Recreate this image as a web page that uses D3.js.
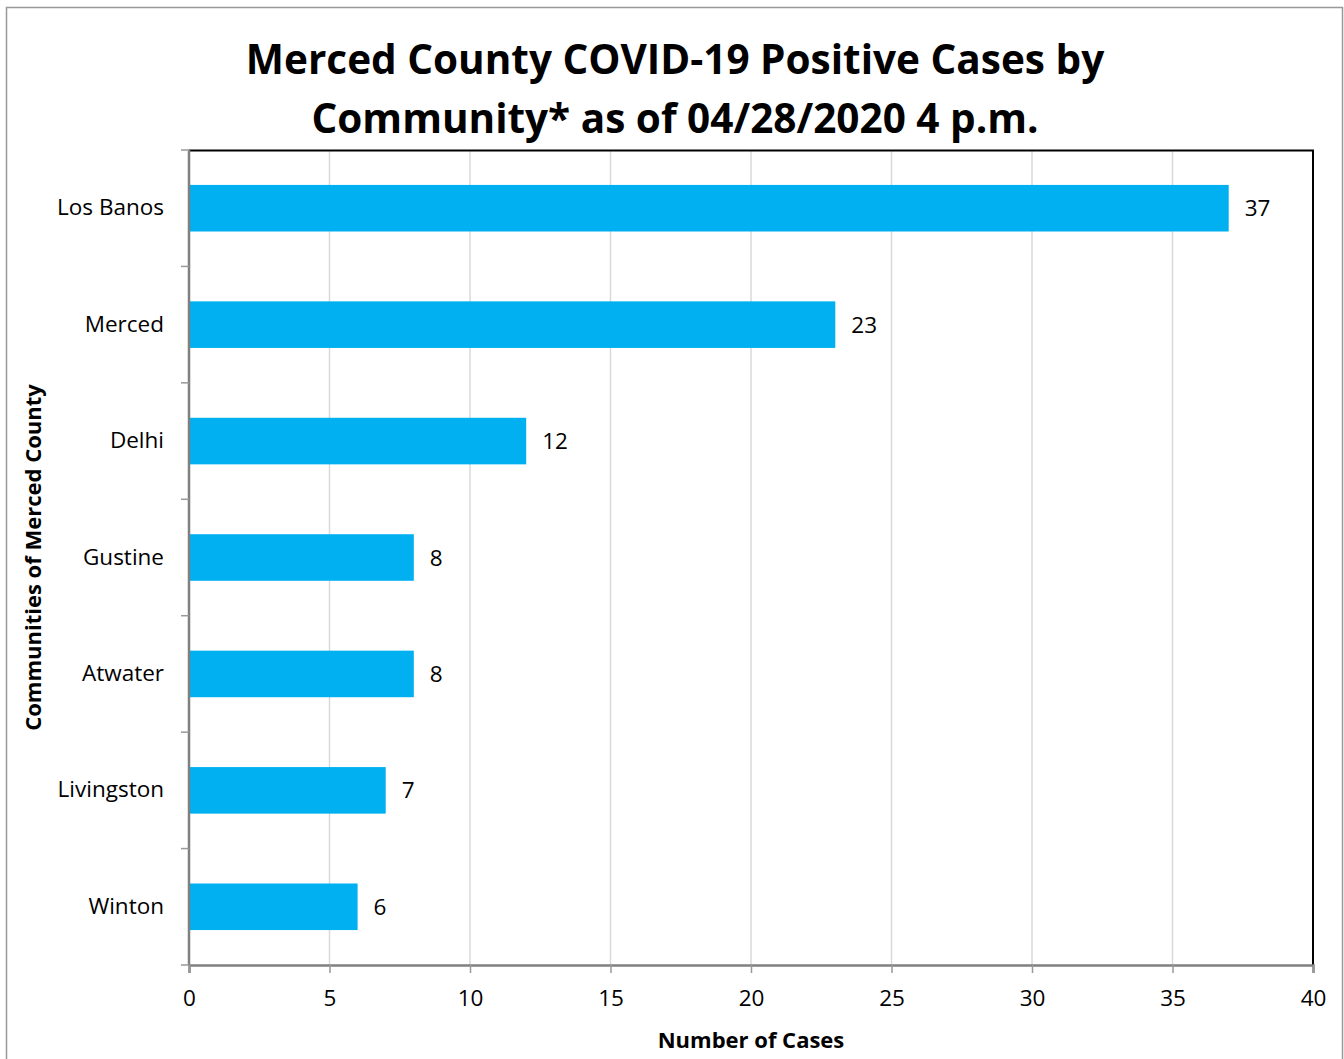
<!DOCTYPE html>
<html>
<head>
<meta charset="utf-8">
<script src="https://cdn.jsdelivr.net/npm/d3@7"></script>
<style>
  body { margin: 0; background: #fff; }
  text { font-family: "Open Sans", "Noto Sans", sans-serif; fill: #000; }
</style>
</head>
<body>
<div id="chart"></div>
<script>
const communities = ["Los Banos", "Merced", "Delhi", "Gustine", "Atwater", "Livingston", "Winton"];
const cases = [37, 23, 12, 8, 8, 7, 6];
const xTicks = [0, 5, 10, 15, 20, 25, 30, 35, 40];
const titleLines = ["Merced County COVID-19 Positive Cases by", "Community* as of 04/28/2020 4 p.m."];

const data = communities.map((c, i) => ({ name: c, value: cases[i] }));

const W = 1344, H = 1059;
const margin = { top: 150, right: 31, bottom: 94, left: 189 };
const width = W - margin.left - margin.right;
const height = H - margin.top - margin.bottom;

const svg = d3.select("#chart").append("svg")
    .attr("width", W)
    .attr("height", H);

// outer frame
svg.append("rect")
    .attr("x", 6.5).attr("y", 7.5)
    .attr("width", 1336).attr("height", 1060)
    .attr("fill", "none")
    .attr("stroke", "#999")
    .attr("stroke-width", 1.5);

svg.selectAll(".title")
    .data(titleLines)
    .enter().append("text")
    .attr("class", "title")
    .attr("x", 675)
    .attr("y", (d, i) => 74 + i * 59)
    .attr("text-anchor", "middle")
    .style("font-size", "40.5px")
    .style("font-weight", "bold")
    .text(d => d);

const g = svg.append("g")
    .attr("transform", `translate(${margin.left},${margin.top})`);

const x = d3.scaleLinear().domain([0, 40]).range([0, width]);
const y = d3.scaleBand().domain(communities).range([0, height]).paddingInner(0.6).paddingOuter(0.3);

// gridlines
g.selectAll(".grid")
    .data(xTicks.slice(1, -1))
    .enter().append("line")
    .attr("x1", d => x(d)).attr("x2", d => x(d))
    .attr("y1", 0).attr("y2", height)
    .attr("stroke", "#d9d9d9")
    .attr("stroke-width", 1.5);

// top and right border
g.append("path")
    .attr("d", `M0,0.5H${width}V${height}`)
    .attr("fill", "none")
    .attr("stroke", "#000")
    .attr("stroke-width", 2);

g.selectAll(".bar")
    .data(data)
    .enter().append("rect")
    .attr("class", "bar")
    .attr("x", 0)
    .attr("y", d => y(d.name))
    .attr("width", d => x(d.value))
    .attr("height", y.bandwidth())
    .attr("fill", "#00b0f0");

g.selectAll(".val")
    .data(data)
    .enter().append("text")
    .attr("class", "val")
    .attr("x", d => x(d.value) + 16)
    .attr("y", d => y(d.name) + y.bandwidth() / 2 + 8)
    .style("font-size", "22.5px")
    .text(d => d.value);

// x axis
const xAxis = d3.axisBottom(x).tickValues(xTicks).tickSize(8).tickPadding(17);
const xa = g.append("g")
    .attr("transform", `translate(0,${height})`)
    .call(xAxis);
xa.select(".domain").attr("stroke", "#808080").attr("stroke-width", 2.5);
xa.selectAll(".tick line").attr("stroke", "#999").attr("stroke-width", 1.5);
xa.selectAll("text").style("font-size", "22.5px").attr("fill", "#000");

// y axis with ticks at band boundaries
const ya = g.append("g");
ya.append("line")
    .attr("x1", 0).attr("x2", 0)
    .attr("y1", 0).attr("y2", height)
    .attr("stroke", "#808080").attr("stroke-width", 2.5);
const bounds = d3.range(communities.length + 1).map(i => i * height / communities.length);
ya.selectAll(".ytick")
    .data(bounds)
    .enter().append("line")
    .attr("x1", -8).attr("x2", 0)
    .attr("y1", d => d).attr("y2", d => d)
    .attr("stroke", "#999").attr("stroke-width", 1.5);
ya.selectAll(".ylab")
    .data(communities)
    .enter().append("text")
    .attr("x", -25)
    .attr("y", d => y(d) + y.bandwidth() / 2 + 7)
    .attr("text-anchor", "end")
    .style("font-size", "22.5px")
    .text(d => d);

svg.append("text")
    .attr("x", margin.left + width / 2)
    .attr("y", 1048)
    .attr("text-anchor", "middle")
    .style("font-size", "22px")
    .style("font-weight", "bold")
    .text("Number of Cases");

svg.append("text")
    .attr("transform", `translate(41,${margin.top + height / 2}) rotate(-90)`)
    .attr("text-anchor", "middle")
    .style("font-size", "22px")
    .style("font-weight", "bold")
    .text("Communities of Merced County");
</script>
</body>
</html>
